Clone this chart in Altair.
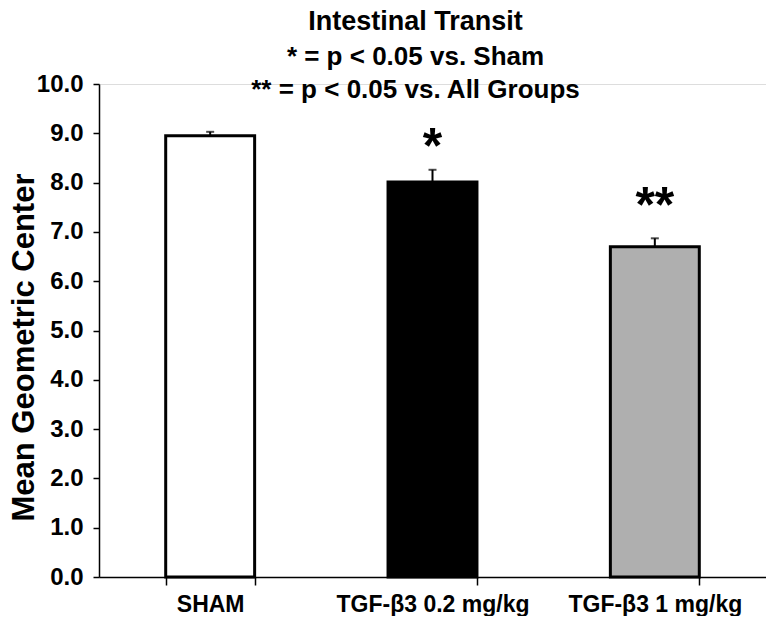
import altair as alt
import pandas as pd

groups = ["SHAM", "TGF-β3 0.2 mg/kg", "TGF-β3 1 mg/kg"]
means = [8.95, 8.01, 6.70]
errs = [0.08, 0.25, 0.17]
fills = ["#FFFFFF", "#000000", "#AFAFAF"]
stars = ["", "*", "**"]
y_ticks = [0, 1, 2, 3, 4, 5, 6, 7, 8, 9, 10]

df = pd.DataFrame({
    "group": groups,
    "mean": means,
    "err": errs,
    "star": stars,
})
df["top"] = df["mean"] + df["err"]

FONT = "Liberation Sans"

x_enc = alt.X(
    "group:N",
    sort=groups,
    title=None,
    scale=alt.Scale(paddingInner=0.6, paddingOuter=0.3),
    axis=alt.Axis(
        labelAngle=0,
        labelFontSize=23,
        labelFontWeight="bold",
        labelFont=FONT,
        labelColor="black",
        labelPadding=8,
        labelLimit=400,
        tickBand="extent",
        tickSize=8,
        tickWidth=1.5,
        tickColor="black",
        domainColor="black",
        domainWidth=1.5,
    ),
)

y_scale = alt.Scale(domain=[0, 10], nice=False)

bars = alt.Chart(df).mark_bar(stroke="black", strokeWidth=3).encode(
    x=x_enc,
    y=alt.Y(
        "mean:Q",
        scale=y_scale,
        title="Mean Geometric Center",
        axis=alt.Axis(
            values=y_ticks,
            format=".1f",
            grid=False,
            labelFontSize=24,
            labelFontWeight="bold",
            labelFont=FONT,
            labelColor="black",
            labelPadding=10,
            tickSize=6,
            tickWidth=1.5,
            tickColor="black",
            domainColor="black",
            domainWidth=1.5,
            titleFontSize=31,
            titleFontWeight="bold",
            titleFont=FONT,
            titleColor="black",
            titleX=-66,
            titleY=263,
            titleBaseline="alphabetic",
            titleAngle=270,
            titleLimit=600,
        ),
    ),
    color=alt.Color("group:N", scale=alt.Scale(domain=groups, range=fills), legend=None),
)

rule = alt.Chart(df).mark_rule(color="black", strokeWidth=2).encode(
    x=alt.X("group:N", sort=groups),
    y=alt.Y("mean:Q", scale=y_scale),
    y2="top:Q",
)

cap = alt.Chart(df).mark_tick(color="black", thickness=2, size=8, orient="horizontal").encode(
    x=alt.X("group:N", sort=groups),
    y=alt.Y("top:Q", scale=y_scale),
)

star1 = alt.Chart(df).transform_filter(alt.datum.star == "*").mark_text(
    fontSize=50, fontWeight="bold", font=FONT, color="black", baseline="alphabetic", dy=-7
).encode(
    x=alt.X("group:N", sort=groups),
    y=alt.Y("top:Q", scale=y_scale),
    text="star:N",
)

star2 = alt.Chart(df).transform_filter(alt.datum.star == "**").mark_text(
    fontSize=50, fontWeight="bold", font=FONT, color="black", baseline="alphabetic", dy=-16
).encode(
    x=alt.X("group:N", sort=groups),
    y=alt.Y("top:Q", scale=y_scale),
    text="star:N",
)

chart = alt.layer(bars, rule, cap, star1, star2).properties(
    width=667,
    height=493,
    title=alt.Title(
        text="Intestinal Transit",
        subtitle=["* = p < 0.05 vs. Sham", "** = p < 0.05 vs. All Groups"],
        font=FONT,
        fontSize=27,
        fontWeight="bold",
        color="black",
        subtitleFont=FONT,
        subtitleFontSize=26,
        subtitleFontWeight="bold",
        subtitleColor="black",
        subtitleLineHeight=33,
        subtitlePadding=8,
        anchor="middle",
        dx=-17,
        offset=-32,
    ),
    autosize=alt.AutoSizeParams(type="none"),
    padding={"left": 91, "top": 76, "right": 0, "bottom": 39},
).configure_view(stroke=None).configure(background="white")

chart.save("out.html", embed_options={"renderer": "svg", "actions": False})
